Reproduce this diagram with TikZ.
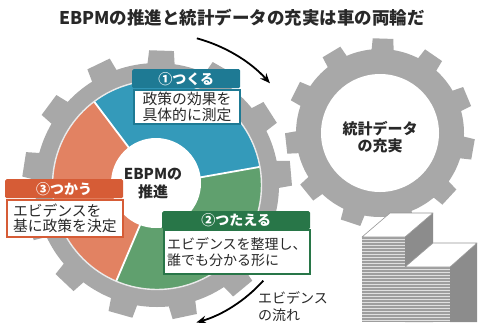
\documentclass[tikz,border=0pt]{standalone}
\usepackage{fontspec}
\setmainfont{Noto Sans CJK JP}
\usetikzlibrary{arrows.meta}

\definecolor{geargray}{RGB}{168,168,168}
\definecolor{pieblue}{RGB}{52,154,186}
\definecolor{hdrblue}{RGB}{30,122,148}
\definecolor{pieorange}{RGB}{226,130,98}
\definecolor{hdrorange}{RGB}{214,92,54}
\definecolor{piegreen}{RGB}{96,160,110}
\definecolor{hdrgreen}{RGB}{40,118,72}
\definecolor{inkgray}{RGB}{40,40,40}
\definecolor{stackfront}{RGB}{158,158,158}
\definecolor{stackside}{RGB}{140,140,140}
\definecolor{stackedge}{RGB}{150,150,150}

% a gear: teeth count, ring radius, tip radius, angular offset
\newcommand{\drawgear}[4]{%
  \pgfmathsetmacro{\gp}{360/#1}%
  \pgfmathsetmacro{\gstart}{#4-\gp/2}%
  \fill[gearbody] (\gstart:#2)
    \foreach \k [evaluate=\k as \s using {#4+\k*\gp-\gp/2},
                 evaluate=\k as \c using {#4+\k*\gp-0.23*\gp},
                 evaluate=\k as \d using {#4+\k*\gp-0.19*\gp},
                 evaluate=\k as \e using {#4+\k*\gp+0.19*\gp},
                 evaluate=\k as \f using {#4+\k*\gp+0.23*\gp},
                 evaluate=\k as \g using {#4+\k*\gp+\gp/2}] in {0,...,\numexpr#1-1\relax}
    { arc[start angle=\s, end angle=\c, radius=#2] -- (\d:#3) -- (\e:#3)
      -- (\f:#2) arc[start angle=\f, end angle=\g, radius=#2] } -- cycle;%
}

\tikzset{
  gearbody/.style={fill=geargray},
  title/.style={font=\bfseries\fontsize{17.5}{20}\selectfont, text=inkgray, inner sep=0pt},
  hub/.style={font=\bfseries\fontsize{15}{18}\selectfont, text=inkgray, align=center, inner sep=0pt},
  gearlabel/.style={font=\bfseries\fontsize{15}{17}\selectfont, text=inkgray, align=center, inner sep=0pt},
  hdr/.style={rectangle, rounded corners=1.5pt, text=white, anchor=north west,
    font=\bfseries\fontsize{14}{16}\selectfont, inner sep=0pt},
  bodybox/.style={rectangle, fill=white, line width=2pt, anchor=north west,
    text=inkgray, inner ysep=0pt},
  sep/.style={draw=white, line width=1.8pt},
  flow/.style={draw=black, line width=1.8pt, -{Stealth[length=10pt,width=8pt]}},
  flowlabel/.style={font=\fontsize{14}{16.5}\selectfont, text=inkgray, align=left, inner sep=0pt},
  stackline/.style={draw=white!88!black, line width=0.9pt},
  stacktop/.style={fill=white, draw=stackedge, line width=0.6pt, line join=round},
}

\begin{document}
\begin{tikzpicture}[x=1pt,y=-1pt]
\useasboundingbox (0,0) rectangle (478,322);
\fill[white] (0,0) rectangle (478,322);

% heading
\node[title] (title) at (242,18) {EBPMの推進と統計データの充実は車の両輪だ};

% right gear: statistics
\begin{scope}[shift={(380,133)}]
  \drawgear{11}{84}{95}{10}
  \fill[white] (0,0) circle[radius=59];
  \node[gearlabel] (data) at (0,4) {統計データ\\の充実};
\end{scope}

% left gear: the EBPM cycle
\begin{scope}[shift={(157,185)}]
  \drawgear{13}{122}{135}{-5}
  \fill[pieblue] (0,0) -- (-127:104) arc[start angle=-127, end angle=-10, radius=104] -- cycle;
  \fill[pieorange] (0,0) -- (-247:104) arc[start angle=-247, end angle=-127, radius=104] -- cycle;
  \fill[piegreen] (0,0) -- (-370:104) arc[start angle=-370, end angle=-247, radius=104] -- cycle;
  \draw[white!92!black, line width=1.4pt] (0,0) circle[radius=104.5];
  \draw[sep] (0,0) -- (-10:104);
  \draw[sep] (0,0) -- (-127:104);
  \draw[sep] (0,0) -- (-247:104);
  \fill[white] (-1,-2) circle[radius=45];
  \node[hub] (hub) at (-4,-1) {EBPMの\\推進};
  \coordinate (topA) at (-74.8:152);
  \coordinate (botA) at (42:143);
\end{scope}

% flow arrows around the left gear
\draw[flow] (topA) arc[start angle=-74.8, end angle=-42, radius=152];
\draw[flow] (botA) arc[start angle=42, end angle=74, radius=143];
\node[flowlabel, anchor=west] (flowtxt) at (258,306.5) {エビデンス\\の流れ};

% step 1: make
\node[hdr, fill=hdrblue, minimum width=108pt, minimum height=19pt] (h1) at (132,69) {①つくる};
\node[bodybox, draw=hdrblue, minimum width=106pt, minimum height=34pt, inner xsep=3pt,
  text width=100pt, align=center, font=\fontsize{14.8}{16}\selectfont] (b1) at (133,89) {政策の効果を\\具体的に測定};

% step 3: use
\node[hdr, fill=hdrorange, minimum width=118pt, minimum height=19pt] (h3) at (5,179) {③つかう};
\node[bodybox, draw=hdrorange, minimum width=116pt, minimum height=37pt, inner xsep=6pt,
  text width=104pt, align=left, font=\fontsize{14.8}{15.5}\selectfont] (b3) at (6,199) {エビデンスを\\基に政策を決定};

% step 2: share
\node[hdr, fill=hdrgreen, minimum width=148pt, minimum height=18pt] (h2) at (162,211) {②つたえる};
\node[bodybox, draw=hdrgreen, minimum width=146pt, minimum height=44pt, inner xsep=3pt,
  text width=140pt, align=left, font=\fontsize{14}{16.5}\selectfont] (b2) at (163,229) {エビデンスを整理し、\\誰でも分かる形に};

% paper stacks
\fill[stackside] (405,237) -- (433,213) -- (433,322) -- (405,322) -- cycle;
\fill[stackfront] (362,237) rectangle (405,322);
\foreach \yy in {239,242,...,321} \draw[stackline] (362,\yy) -- (405,\yy);
\draw[stacktop] (362,237) -- (405,237) -- (433,213) -- (390,213) -- cycle;

\fill[stackside] (450,267) -- (477,243) -- (477,322) -- (450,322) -- cycle;
\fill[stackfront] (405,267) rectangle (450,322);
\foreach \yy in {269,272,...,321} \draw[stackline] (405,\yy) -- (450,\yy);
\draw[stacktop] (405,267) -- (450,267) -- (477,243) -- (433,243) -- cycle;
\end{tikzpicture}
\end{document}
